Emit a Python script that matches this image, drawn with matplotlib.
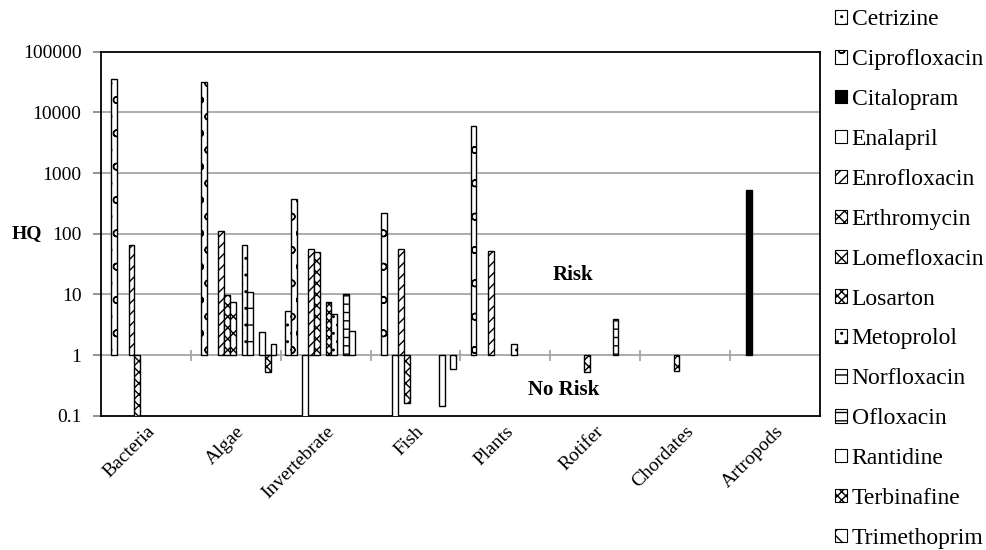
import numpy as np
import matplotlib
matplotlib.use('Agg')
import matplotlib.pyplot as plt
from matplotlib.patches import Patch

plt.rcParams['font.family'] = ['Liberation Serif', 'DejaVu Serif']
plt.rcParams['hatch.linewidth'] = 1.0

nan = np.nan

# HQ values per organism group (nan = no bar)
groups = ['Bacteria', 'Algae', 'Invertebrate', 'Fish', 'Plants', 'Rotifer', 'Chordates', 'Artropods']

cetrizine     = [nan, nan, 5.3, nan, nan, nan, nan, nan]
ciprofloxacin = [36000, 32000, 370, 220, 6000, nan, nan, nan]
citalopram    = [nan, nan, nan, nan, nan, nan, nan, 520]
enalapril     = [nan, nan, 0.09, 0.09, nan, nan, nan, nan]
enrofloxacin  = [65, 112, 55, 55, 52, nan, nan, nan]
erthromycin   = [0.09, 9.6, 50, 0.16, nan, 0.53, 0.55, nan]
lomefloxacin  = [nan, 7.6, nan, nan, nan, nan, nan, nan]
losarton      = [nan, nan, 7.5, nan, nan, nan, nan, nan]
metoprolol    = [nan, 64, 4.7, nan, 1.5, nan, nan, nan]
norfloxacin   = [nan, 11, nan, nan, nan, nan, nan, nan]
ofloxacin     = [nan, nan, 10, nan, nan, 4.0, nan, nan]
rantidine     = [nan, 2.4, 2.5, 0.145, nan, nan, nan, nan]
terbinafine   = [nan, 0.53, nan, nan, nan, nan, nan, nan]
trimethoprim  = [nan, 1.5, nan, 0.59, nan, nan, nan, nan]

names = ['Cetrizine', 'Ciprofloxacin', 'Citalopram', 'Enalapril', 'Enrofloxacin',
         'Erthromycin', 'Lomefloxacin', 'Losarton', 'Metoprolol', 'Norfloxacin',
         'Ofloxacin', 'Rantidine', 'Terbinafine', 'Trimethoprim']
series = [cetrizine, ciprofloxacin, citalopram, enalapril, enrofloxacin,
          erthromycin, lomefloxacin, losarton, metoprolol, norfloxacin,
          ofloxacin, rantidine, terbinafine, trimethoprim]

# look of each series (white fill + hatch, citalopram solid black)
hatches = ['..', 'o', '', '', '///', 'xxx', 'XX', 'xxxx', '..', '-', '--', '', 'xxxx', 'x']
faces = ['white'] * 14
faces[2] = 'black'

fig = plt.figure(figsize=(9.87, 5.5), dpi=100)
ax = fig.add_axes([0.1023, 0.2442, 0.7285, 0.6618])
ax.set_yscale('log')

x = np.arange(len(groups))
n = len(series)
slot = 1 / (n + 1.5)
handles = []
for j, vals in enumerate(series):
    v = np.array(vals, dtype=float)
    pos = x - 0.5 + (0.75 + j + 0.5) * slot
    ax.bar(pos, v - 1, bottom=1, width=slot, color=faces[j], edgecolor='black',
           hatch=hatches[j], linewidth=1.0, zorder=3)
    handles.append(Patch(facecolor=faces[j], edgecolor='black', hatch=hatches[j],
                         linewidth=0.8, label=names[j]))

ax.set_xlim(-0.5, len(groups) - 0.5)
ax.set_ylim(0.1, 100000)
yt = [0.1, 1, 10, 100, 1000, 10000, 100000]
ax.set_yticks(yt)
ax.set_yticklabels(['0.1', '1', '10', '100', '1000', '10000', '100000'], fontsize=14)
ax.minorticks_off()
ax.tick_params(axis='y', direction='out', length=6, color='#808080', width=1.2, pad=8)
for v in yt[1:-1]:
    ax.axhline(v, color='#a6a6a6', lw=1.3, zorder=1)

# category axis crosses at 1
ax.vlines(x[:-1] + 0.5, 0.81, 1.23, color='#a6a6a6', lw=1.3, zorder=2)
ax.set_xticks(x)
ax.set_xticklabels(groups, rotation=45, ha='right', rotation_mode='anchor', fontsize=14)
ax.tick_params(axis='x', length=0, pad=5)

for s in ax.spines.values():
    s.set_linewidth(1.3)
    s.set_color('black')

ax.set_ylabel('HQ', rotation=0, fontsize=14, fontweight='bold', ha='center', va='center')
ax.yaxis.set_label_coords(-0.103, 0.5)

ax.text(4.75, 20.7, 'Risk', fontsize=15, fontweight='bold', ha='center', va='center')
ax.text(4.65, 0.265, 'No Risk', fontsize=15, fontweight='bold', ha='center', va='center')

fig.legend(handles=handles, loc='upper left', bbox_to_anchor=(0.846, 0.983),
           frameon=False, fontsize=17, handlelength=0.5, handleheight=0.5,
           handletextpad=0.2, labelspacing=0.8, borderpad=0, borderaxespad=0)

plt.savefig('out.png', dpi=100)
